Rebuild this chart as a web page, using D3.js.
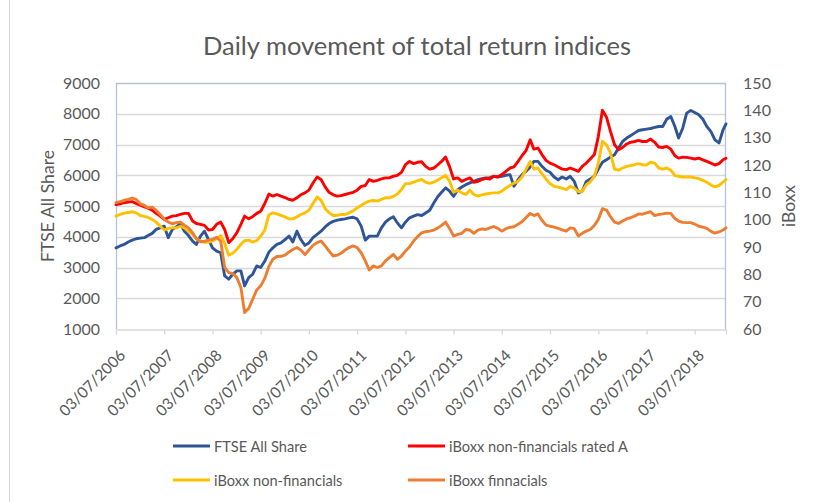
<!DOCTYPE html>
<html><head><meta charset="utf-8">
<script src="https://cdn.jsdelivr.net/npm/d3@7"></script>
<style>
body{margin:0;background:#fff;}
svg{display:block;font-family:Lato,"Open Sans",sans-serif;}
</style>
</head><body>
<svg id="chart" width="814" height="502"></svg>
<script>
// ---------- DATA ----------
const dates = [
"2006-07-03","2006-08-03","2006-09-03","2006-10-03","2006-11-03","2006-12-03",
"2007-01-03","2007-02-03","2007-03-03","2007-04-03","2007-05-03","2007-06-03","2007-07-03","2007-08-03","2007-09-03","2007-10-03","2007-11-03","2007-12-03",
"2008-01-03","2008-02-03","2008-03-03","2008-04-03","2008-05-03","2008-06-03","2008-07-03","2008-08-03","2008-09-03","2008-10-03","2008-11-03","2008-12-03",
"2009-01-03","2009-02-03","2009-03-03","2009-04-03","2009-05-03","2009-06-03","2009-07-03","2009-08-03","2009-09-03","2009-10-03","2009-11-03","2009-12-03",
"2010-01-03","2010-02-03","2010-03-03","2010-04-03","2010-05-03","2010-06-03","2010-07-03","2010-08-03","2010-09-03","2010-10-03","2010-11-03","2010-12-03",
"2011-01-03","2011-02-03","2011-03-03","2011-04-03","2011-05-03","2011-06-03","2011-07-03","2011-08-03","2011-09-03","2011-10-03","2011-11-03","2011-12-03",
"2012-01-03","2012-02-03","2012-03-03","2012-04-03","2012-05-03","2012-06-03","2012-07-03","2012-08-03","2012-09-03","2012-10-03","2012-11-03","2012-12-03",
"2013-01-03","2013-02-03","2013-03-03","2013-04-03","2013-05-03","2013-06-03","2013-07-03","2013-08-03","2013-09-03","2013-10-03","2013-11-03","2013-12-03",
"2014-01-03","2014-02-03","2014-03-03","2014-04-03","2014-05-03","2014-06-03","2014-07-03","2014-08-03","2014-09-03","2014-10-03","2014-11-03","2014-12-03",
"2015-01-03","2015-02-03","2015-03-03","2015-04-03","2015-05-03","2015-06-03","2015-07-03","2015-08-03","2015-09-03","2015-10-03","2015-11-03","2015-12-03",
"2016-01-03","2016-02-03","2016-03-03","2016-04-03","2016-05-03","2016-06-03","2016-07-03","2016-08-03","2016-09-03","2016-10-03","2016-11-03","2016-12-03",
"2017-01-03","2017-02-03","2017-03-03","2017-04-03","2017-05-03","2017-06-03","2017-07-03","2017-08-03","2017-09-03","2017-10-03","2017-11-03","2017-12-03",
"2018-01-03","2018-02-03","2018-03-03","2018-04-03","2018-05-03","2018-06-03","2018-07-03","2018-08-03","2018-09-03","2018-10-03","2018-11-03","2018-12-03",
"2019-01-03","2019-02-03","2019-02-25"
];

const ftseAllShare = [
3640,3700,3750,3830,3890,3935,3955,3970,4040,4110,4240,4290,
4345,3970,4240,4320,4430,4180,4040,3860,3750,4020,4180,3910,
3640,3530,3480,2725,2620,2780,2890,2890,2400,2670,2780,3050,
3000,3210,3500,3640,3750,3800,3910,4020,3830,4180,3910,3720,
3800,3970,4075,4180,4320,4430,4500,4540,4560,4580,4615,4635,
4580,4345,3890,4020,4020,4020,4290,4475,4580,4650,4450,4290,
4475,4615,4670,4720,4690,4775,4860,5100,5295,5445,5590,5480,
5315,5530,5620,5695,5750,5800,5855,5890,5910,5920,5965,5945,
5965,6000,6020,5640,5855,6020,6130,6270,6450,6450,6290,6160,
6095,5945,5855,5945,5880,5965,5800,5425,5480,5800,5880,5965,
6200,6420,6505,6590,6670,6885,7100,7210,7285,7370,7455,7480,
7500,7520,7555,7585,7585,7820,7910,7585,7210,7530,8020,8105,
8040,7965,7820,7585,7420,7150,7050,7480,7670
];

const iboxxNonFinA = [
105.5,105.8,106.2,106.4,106.6,105.9,105.3,104.7,104.2,103.5,102.3,101.3,
100.1,100.7,101.3,101.5,101.9,102.3,102.3,99.5,98.6,98.3,97.9,96.2,
96.4,98.3,99.1,96.4,91.6,93.0,95.2,98.3,101.3,100.3,101.1,102.3,
103.1,105.9,109.4,108.6,109.2,108.6,108.1,107.4,107.1,108.0,109.1,109.8,
110.8,113.4,115.6,114.7,112.0,110.0,109.1,108.6,108.8,109.2,109.6,110.0,
110.8,112.2,112.5,114.7,114.0,114.4,114.9,115.3,115.3,115.9,116.2,117.3,
120.1,121.3,120.5,121.0,121.2,119.5,118.5,118.9,120.0,121.3,122.9,119.3,
114.9,115.3,114.0,114.7,115.3,113.7,114.0,114.7,115.1,114.9,115.9,115.6,
116.5,117.7,118.9,119.3,121.3,123.4,125.3,129.2,125.8,126.2,123.8,121.7,
120.7,120.1,119.3,118.5,118.3,118.9,118.3,117.7,119.5,120.7,122.2,123.8,
130.4,140.0,137.5,132.3,127.4,125.6,126.4,127.7,128.3,128.6,129.0,128.6,
128.6,129.5,128.3,126.6,126.4,126.8,125.8,123.4,122.5,122.9,122.8,122.5,
122.2,122.5,121.9,121.3,120.7,120.0,120.5,121.9,122.5
];

const iboxxNonFin = [
101.3,101.9,102.4,102.6,102.9,102.5,101.5,101.2,100.8,100.1,99.1,97.6,
96.2,96.8,97.0,97.0,97.6,97.0,95.8,94.6,93.0,92.2,91.7,91.8,
92.2,93.0,94.2,91.3,87.0,87.7,89.1,91.0,92.3,92.5,91.8,92.4,
94.0,96.2,101.8,102.5,102.1,101.6,101.0,100.3,100.3,101.0,101.9,102.5,
103.4,105.9,108.3,107.1,104.1,102.5,101.5,101.6,101.9,101.9,102.5,103.2,
104.3,105.2,106.2,106.8,107.0,106.8,107.4,108.0,108.0,108.5,109.4,111.0,
113.2,113.2,113.7,114.3,114.7,113.7,113.3,113.7,114.4,115.3,116.2,114.0,
110.0,110.8,109.8,109.2,110.8,109.2,108.6,109.1,109.4,109.6,109.8,109.8,
110.4,111.6,112.5,113.4,114.0,115.6,118.5,121.3,118.5,118.9,116.8,114.9,
113.2,112.2,111.9,111.5,111.0,112.2,111.6,110.2,110.4,112.8,113.8,115.9,
120.7,128.6,127.4,124.4,118.5,118.1,118.9,119.5,119.8,120.1,120.5,120.1,
120.0,121.0,120.7,118.9,118.5,118.9,118.1,116.1,115.9,115.6,115.6,115.6,
115.3,115.0,114.4,113.7,112.7,112.0,112.5,113.7,114.7
];

const iboxxFin = [
106.2,106.6,107.1,107.4,107.9,107.4,105.8,105.2,104.3,104.6,103.4,101.9,
100.1,99.1,98.5,98.9,99.1,98.0,97.0,95.2,93.0,91.9,92.1,92.5,
92.8,93.5,92.2,82.5,80.6,80.3,78.8,75.2,66.0,67.5,70.9,74.3,
75.8,78.6,82.9,85.5,86.5,86.6,87.0,88.2,89.1,89.8,88.9,87.2,
88.9,90.6,91.6,92.2,90.4,88.5,86.7,87.0,87.7,88.9,89.8,90.4,
89.8,87.9,84.9,81.6,83.1,82.5,83.1,84.9,86.1,87.3,85.5,86.7,
88.5,90.0,92.2,93.8,95.2,95.6,95.8,96.2,96.9,97.9,99.1,96.7,
94.0,94.6,95.0,96.4,96.2,95.0,96.2,96.6,96.4,97.0,97.5,96.8,
95.8,96.7,97.2,97.4,98.3,99.2,100.8,102.3,101.5,102.1,99.8,98.0,
97.6,97.3,96.8,96.3,95.8,97.0,96.7,94.0,95.0,95.8,96.4,97.9,
100.1,104.0,103.5,101.1,99.1,98.6,99.5,100.3,100.7,101.3,102.1,102.0,
102.5,102.9,101.5,101.9,102.1,102.4,102.3,100.4,99.5,99.0,98.9,98.9,
98.4,97.6,97.3,96.8,95.7,95.1,95.5,96.2,97.0
];

const seriesNames = ["FTSE All Share","iBoxx non-financials rated A","iBoxx non-financials","iBoxx finnacials"];
const seriesColors = ["#2f5597","#ff0000","#ffc000","#ed7d31"];
const xTickLabels = ["03/07/2006","03/07/2007","03/07/2008","03/07/2009","03/07/2010","03/07/2011","03/07/2012",
  "03/07/2013","03/07/2014","03/07/2015","03/07/2016","03/07/2017","03/07/2018"];
const leftTicks = [1000,2000,3000,4000,5000,6000,7000,8000,9000];
const rightTicks = [60,70,80,90,100,110,120,130,140,150];
const titleText = "Daily movement of total return indices";
const leftTitle = "FTSE All Share";
const rightTitle = "iBoxx";

// ---------- CHART ----------
const svg = d3.select("#chart");
const textColor = "#595959";
const plot = {left:116, right:726, top:83, bottom:329};
const parseISO = d3.timeParse("%Y-%m-%d");
const parseTick = d3.timeParse("%d/%m/%Y");
const dts = dates.map(parseISO);

// scale font size so a text spans the width measured in the reference
function fitWidth(node, target){
  const base = parseFloat(node.getAttribute("font-size"));
  const w = node.getComputedTextLength();
  if (w > 0) node.setAttribute("font-size", (base * target / w).toFixed(2));
}

const x = d3.scaleTime().domain([dts[0], dts[dts.length-1]]).range([plot.left, plot.right]);
const yL = d3.scaleLinear().domain([1000,9000]).range([plot.bottom, plot.top]);
const yR = d3.scaleLinear().domain([60,150]).range([plot.bottom, plot.top]);

svg.append("rect").attr("width",814).attr("height",502).attr("fill","#fff");
svg.append("line").attr("x1",9.5).attr("x2",9.5).attr("y1",0).attr("y2",502)
  .attr("stroke","#d9d9d9").attr("stroke-width",1);

// gridlines
svg.append("g").selectAll("line").data(leftTicks.slice(1, -1)).join("line")
  .attr("x1",plot.left).attr("x2",plot.right)
  .attr("y1",d=>Math.round(yL(d))+0.5).attr("y2",d=>Math.round(yL(d))+0.5)
  .attr("stroke","#d9d9d9").attr("stroke-width",1.3);

// plot border (top, left, right)
const borderColor = "#b4c1d6";
svg.append("path")
  .attr("d",`M${plot.left+0.5},${plot.bottom}V${plot.top+0.5}H${plot.right-0.5}V${plot.bottom}`)
  .attr("fill","none").attr("stroke",borderColor).attr("stroke-width",1.3);

// bottom axis
const xAxis = d3.axisBottom(x).tickValues(xTickLabels.map(parseTick)).tickSize(5).tickFormat("");
const gx = svg.append("g").attr("transform",`translate(0,${plot.bottom+0.5})`).call(xAxis);
gx.select(".domain").attr("stroke","#d9d9d9").attr("stroke-width",1.3);
gx.selectAll(".tick line").attr("stroke","#d9d9d9").attr("stroke-width",1.3);
gx.selectAll(".tick").append("text")
  .attr("fill",textColor).attr("font-size",16).attr("text-anchor","end")
  .attr("font-family","Lato")
  .attr("transform","translate(2,19) rotate(-45)").attr("dy","0.72em")
  .text((d,i)=>xTickLabels[i])
  .each(function(){ fitWidth(this, 86); });

// left & right tick labels
const yAxisL = d3.axisLeft(yL).tickValues(leftTicks).tickSize(0).tickPadding(16).tickFormat(d3.format("d"));
const gl = svg.append("g").attr("transform",`translate(${plot.left},0)`).call(yAxisL);
gl.select(".domain").remove();
gl.selectAll("text").attr("fill",textColor).attr("font-size",16).attr("font-family","Lato")
  .each(function(){ fitWidth(this, 37); });

const yAxisR = d3.axisRight(yR).tickValues(rightTicks).tickSize(0).tickPadding(17).tickFormat(d3.format("d"));
const gr = svg.append("g").attr("transform",`translate(${plot.right},0)`).call(yAxisR);
gr.select(".domain").remove();
gr.selectAll("text").attr("fill",textColor).attr("font-size",16).attr("font-family","Lato")
  .each(function(d){ fitWidth(this, d >= 100 ? 28 : 18.5); });

// lines
const lineL = d3.line().x((d,i)=>x(dts[i])).y(d=>yL(d));
const lineR = d3.line().x((d,i)=>x(dts[i])).y(d=>yR(d));
const allSeries = [
  {v:ftseAllShare, gen:lineL},
  {v:iboxxNonFinA, gen:lineR},
  {v:iboxxNonFin, gen:lineR},
  {v:iboxxFin, gen:lineR}
];
svg.append("g").selectAll("path").data(allSeries).join("path")
  .attr("d",d=>d.gen(d.v)).attr("fill","none")
  .attr("stroke",(d,i)=>seriesColors[i]).attr("stroke-width",2.9)
  .attr("stroke-linejoin","round").attr("stroke-linecap","round");

// titles
svg.append("text").attr("x",417).attr("y",45).attr("text-anchor","middle")
  .attr("dominant-baseline","central").attr("fill",textColor).attr("font-size",23).text(titleText)
  .each(function(){ fitWidth(this, 428); });
svg.append("text").attr("transform","translate(47,206) rotate(-90)").attr("text-anchor","middle")
  .attr("dominant-baseline","central").attr("fill",textColor).attr("font-size",18).text(leftTitle)
  .each(function(){ fitWidth(this, 112); });
svg.append("text").attr("transform","translate(788,206) rotate(-90)").attr("text-anchor","middle")
  .attr("dominant-baseline","central").attr("fill",textColor).attr("font-size",18).text(rightTitle)
  .each(function(){ fitWidth(this, 42); });

// legend
const legendPos = [[173,446],[408,446],[173,480],[408,480]];
const lg = svg.append("g").selectAll("g").data(seriesNames).join("g")
  .attr("transform",(d,i)=>`translate(${legendPos[i][0]},${legendPos[i][1]})`);
lg.append("line").attr("x1",0).attr("x2",37).attr("y1",0).attr("y2",0)
  .attr("stroke",(d,i)=>seriesColors[i]).attr("stroke-width",2.9);
lg.append("text").attr("x",41).attr("y",0).attr("dominant-baseline","central")
  .attr("fill",textColor).attr("font-size",15).text(d=>d)
  .each(function(d,i){ if(i===0) fitWidth(this, 93); });
const legendSize = lg.select("text").filter((d,i)=>i===0).attr("font-size");
lg.selectAll("text").attr("font-size",legendSize);
</script>
</body></html>
